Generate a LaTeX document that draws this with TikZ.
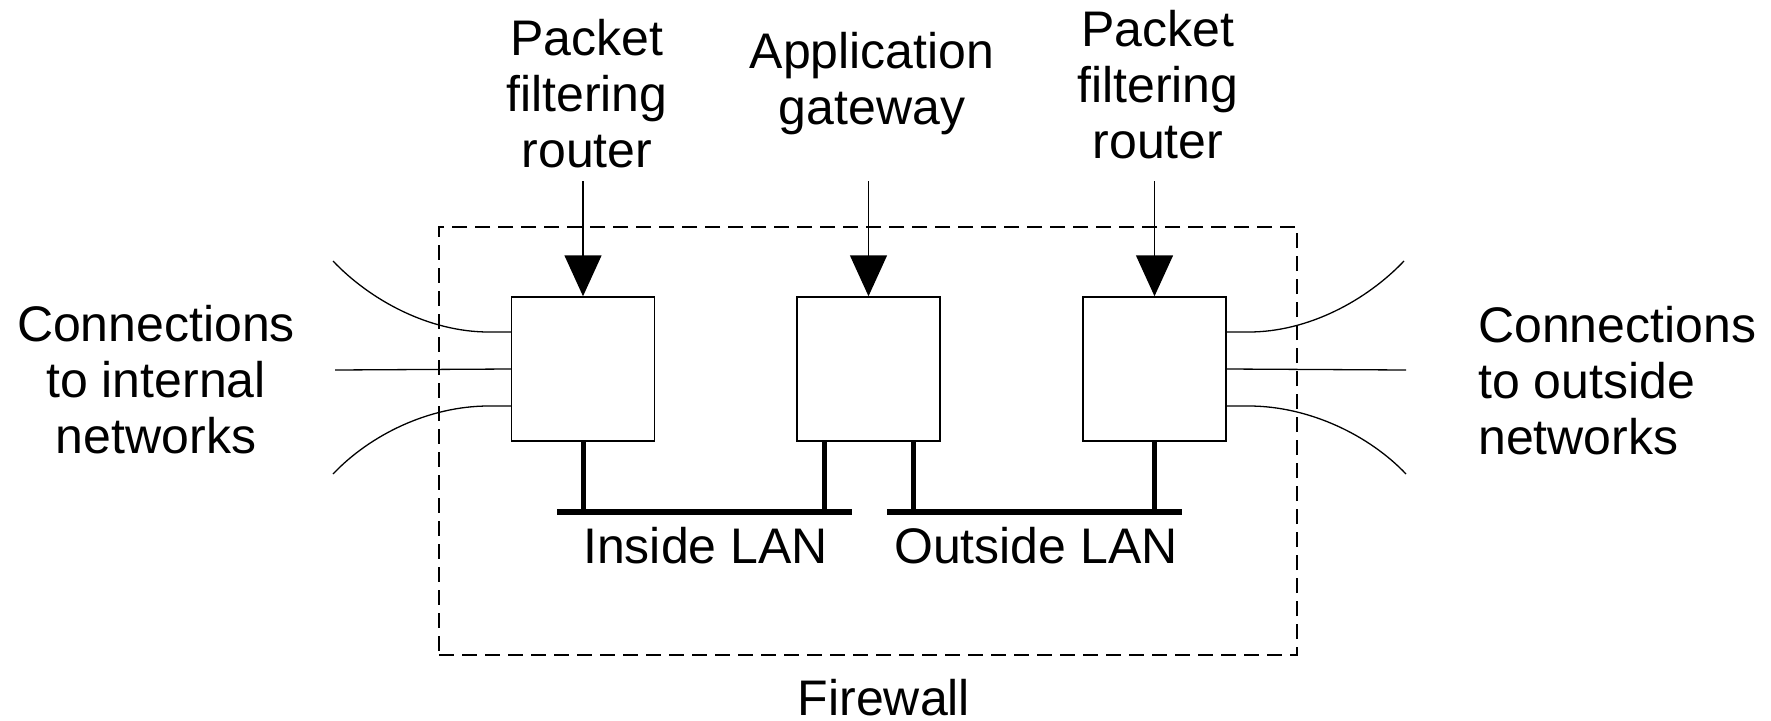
\documentclass[tikz,border=0pt]{standalone}
\usepackage{fontspec}
\setmainfont{Liberation Sans}
\usetikzlibrary{arrows.meta}
\begin{document}
\begin{tikzpicture}[x=1pt,y=-1pt,
  lbl/.style={font=\fontsize{50}{56}\selectfont, inner sep=0pt},
  dev/.style={draw, line width=1.5pt, minimum width=143pt, minimum height=144pt, inner sep=0pt},
  arr/.style={line width=1.5pt, -{Triangle[length=41pt,width=37pt]}},
  wire/.style={line width=1.3pt},
  lan/.style={line width=6pt},
  stem/.style={line width=5pt},
  fw/.style={draw, line width=1.5pt, dash pattern=on 15pt off 8pt, inner sep=0pt}]
\useasboundingbox (0,0) rectangle (1771,720);
% firewall boundary
\node[fw, minimum width=858pt, minimum height=428pt] (fwbox) at (868,441) {};
% devices
\node[dev] (b1) at (583,369) {};
\node[dev] (b2) at (868.5,369) {};
\node[dev] (b3) at (1154.5,369) {};
% top labels (anchor=base is the baseline of the last line)
\node[lbl, align=center, anchor=base] (lblA) at (587,167) {Packet\\filtering\\router};
\node[lbl, align=center, anchor=base] (lblB) at (872,124) {Application\\gateway};
\node[lbl, align=center, anchor=base] (lblC) at (1158,158) {Packet\\filtering\\router};
\coordinate (a1) at (583,181);
\coordinate (a2) at (868.5,181);
\coordinate (a3) at (1154.5,181);
\draw[arr] (a1) -- (b1.north);
\draw[arr] (a2) -- (b2.north);
\draw[arr] (a3) -- (b3.north);
% LANs
\coordinate (inL) at (557,512);
\coordinate (inR) at (852,512);
\coordinate (outL) at (887,512);
\coordinate (outR) at (1182,512);
\draw[lan] (inL) -- (inR);
\draw[lan] (outL) -- (outR);
\draw[stem] (b1.south) -- (b1.south |- inL);
\draw[stem] ([xshift=28pt]b2.south west) -- ([xshift=28pt]b2.south west |- inL);
\draw[stem] ([xshift=-27pt]b2.south east) -- ([xshift=-27pt]b2.south east |- outL);
\draw[stem] (b3.south) -- (b3.south |- outL);
\node[lbl, anchor=base] (inlan) at (705.5,563) {Inside LAN};
\node[lbl, anchor=base] (outlan) at (1036,563) {Outside LAN};
\node[lbl, anchor=base] (fwlbl) at (884,715) {Firewall};
% connections
\coordinate (l1) at (333,261);
\coordinate (l2) at (335,370);
\coordinate (l3) at (333,474);
\coordinate (r1) at (1404,261);
\coordinate (r2) at (1406,370);
\coordinate (r3) at (1406,474);
\draw[wire] ([yshift=37pt]b1.west) -- ++(-22,0) .. controls +(-60,0) and +(37,39) .. (l1);
\draw[wire] (b1.west) -- (l2);
\draw[wire] ([yshift=-37pt]b1.west) -- ++(-22,0) .. controls +(-60,0) and +(37,-39) .. (l3);
\draw[wire] ([yshift=37pt]b3.east) -- ++(22,0) .. controls +(60,0) and +(-37,39) .. (r1);
\draw[wire] (b3.east) -- (r2);
\draw[wire] ([yshift=-37pt]b3.east) -- ++(22,0) .. controls +(60,0) and +(-37,-39) .. (r3);
\node[lbl, align=center, anchor=base] (leftlbl) at (156,453) {Connections\\to internal\\networks};
\node[lbl, align=left, anchor=base west] (rightlbl) at (1478,454) {Connections\\to outside\\networks};
\end{tikzpicture}
\end{document}
